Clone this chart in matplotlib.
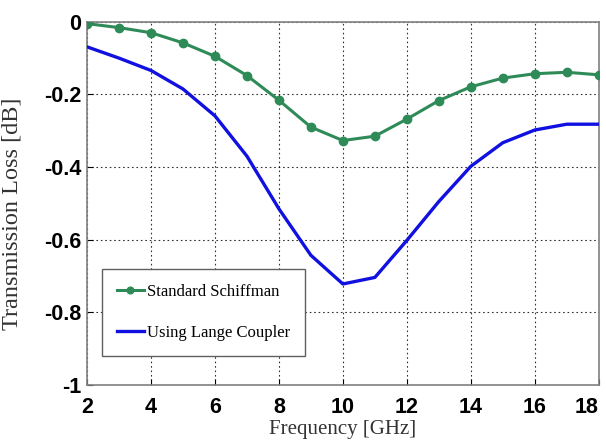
import matplotlib
matplotlib.use("Agg")
import matplotlib.pyplot as plt

freq = [2, 3, 4, 5, 6, 7, 8, 9, 10, 11, 12, 13, 14, 15, 16, 17, 18]
schiffman = [-0.005, -0.016, -0.03, -0.058, -0.095, -0.148, -0.216, -0.29, -0.327,
             -0.315, -0.268, -0.217, -0.179, -0.155, -0.143, -0.139, -0.146]
lange = [-0.069, -0.10, -0.134, -0.185, -0.259, -0.37, -0.515, -0.643, -0.722,
         -0.704, -0.602, -0.495, -0.398, -0.333, -0.298, -0.282, -0.282]
xticks = [2, 4, 6, 8, 10, 12, 14, 16, 18]
yticks = [0, -0.2, -0.4, -0.6, -0.8, -1]
ytick_labels = ["0", "-0.2", "-0.4", "-0.6", "-0.8", "-1"]

fig = plt.figure(figsize=(6.06, 4.45), dpi=100)
ax = fig.add_axes([0.1436, 0.135, 0.988 - 0.1436, 0.951 - 0.135])

ax.plot(freq, schiffman, color="#2e8b57", lw=2.2, marker="o", ms=6,
        label="Standard Schiffman", zorder=3)
ax.plot(freq, lange, color="#1010e0", lw=2.4, label="Using Lange Coupler", zorder=3)

ax.set_xlim(2, 18)
ax.set_ylim(-1, 0)
ax.set_xticks(xticks)
ax.set_yticks(yticks)
ax.set_yticklabels(ytick_labels)
ax.grid(True, color="black", linestyle=(0, (1.5, 2.5)), linewidth=0.8, alpha=0.8)
ax.tick_params(direction="in", length=4, labelsize=15.5)
ax.tick_params(axis="x", pad=9)
ax.tick_params(axis="y", pad=4)
for lab in ax.get_xticklabels() + ax.get_yticklabels():
    lab.set_fontfamily("Liberation Sans")
    lab.set_fontweight("bold")
ax.get_xticklabels()[-1].set_horizontalalignment("right")
for s in ax.spines.values():
    s.set_color("#808080")
    s.set_linewidth(1.2)

ax.set_xlabel("Frequency [GHz]", fontsize=15, family="Liberation Serif", labelpad=1)
ax.set_ylabel("Transmission Loss [dB]", fontsize=17.5, family="Liberation Serif",
              color="#333333")
ax.xaxis.label.set_color("#333333")
ax.yaxis.set_label_coords(-0.127, 0.47)

leg = ax.legend(loc="lower left", bbox_to_anchor=(0.029, 0.08), borderaxespad=0,
                fancybox=False,
                prop={"family": "Liberation Serif", "size": 12},
                handlelength=1.6, handletextpad=0.2, labelspacing=1.5,
                borderpad=0.9, framealpha=1, markerscale=0.8)
leg.get_frame().set_edgecolor("#606060")
leg.get_frame().set_linewidth(1.0)

fig.savefig("out.png", dpi=100)
